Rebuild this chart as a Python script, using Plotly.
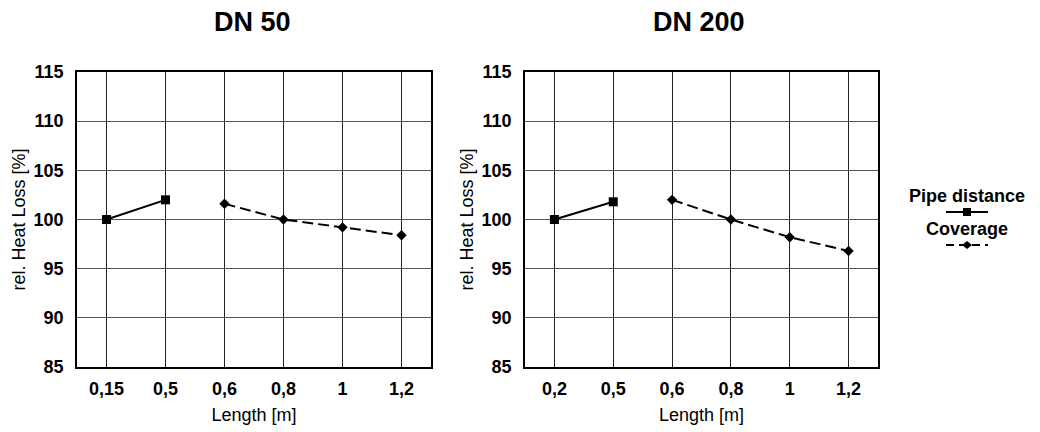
import plotly.graph_objects as go

# ---- data ----
cats_dn50 = ["0,15", "0,5", "0,6", "0,8", "1", "1,2"]
cats_dn200 = ["0,2", "0,5", "0,6", "0,8", "1", "1,2"]

pipe_x_dn50 = ["0,15", "0,5"]
pipe_y_dn50 = [100.0, 102.0]
cover_x_dn50 = ["0,6", "0,8", "1", "1,2"]
cover_y_dn50 = [101.6, 100.0, 99.2, 98.4]

pipe_x_dn200 = ["0,2", "0,5"]
pipe_y_dn200 = [100.0, 101.8]
cover_x_dn200 = ["0,6", "0,8", "1", "1,2"]
cover_y_dn200 = [102.0, 100.0, 98.2, 96.8]

titles = ["DN 50", "DN 200"]
y_ticks = [85, 90, 95, 100, 105, 110, 115]
series_names = ["Pipe distance", "Coverage"]

W, H = 1040, 432
FONT = "Liberation Sans, Arial, sans-serif"

fig = go.Figure()

line_pipe = dict(color="black", width=2)
line_cov = dict(color="black", width=2, dash="11px,5px")
mk_pipe = dict(symbol="square", size=9, color="black")
mk_cov = dict(symbol="diamond", size=8, color="black")

fig.add_trace(go.Scatter(x=pipe_x_dn50, y=pipe_y_dn50, mode="lines+markers",
                         line=line_pipe, marker=mk_pipe, name=series_names[0],
                         xaxis="x", yaxis="y", showlegend=False))
fig.add_trace(go.Scatter(x=cover_x_dn50, y=cover_y_dn50, mode="lines+markers",
                         line=line_cov, marker=mk_cov, name=series_names[1],
                         xaxis="x", yaxis="y", showlegend=False))
fig.add_trace(go.Scatter(x=pipe_x_dn200, y=pipe_y_dn200, mode="lines+markers",
                         line=line_pipe, marker=mk_pipe, name=series_names[0],
                         xaxis="x2", yaxis="y2", showlegend=False))
fig.add_trace(go.Scatter(x=cover_x_dn200, y=cover_y_dn200, mode="lines+markers",
                         line=line_cov, marker=mk_cov, name=series_names[1],
                         xaxis="x2", yaxis="y2", showlegend=False))

ydom = [1 - 367 / H, 1 - 72 / H]
dom1 = [77 / W, 431 / W]
dom2 = [525 / W, 878 / W]

tickfont = dict(family=FONT, size=18, color="black", weight="bold")
titlefont = dict(family=FONT, size=18, color="black")

def xax(dom, cats, anchor):
    return dict(domain=dom, type="category", categoryorder="array", categoryarray=cats,
                range=[-0.5, 5.5], showgrid=True, gridcolor="#222222", gridwidth=1,
                showline=True, linecolor="black", linewidth=1.5, mirror=True,
                ticks="", tickfont=tickfont, anchor=anchor, zeroline=False,
                ticklabelstandoff=5, automargin=False,
                title=dict(text="Length [m]", font=titlefont, standoff=10))

def yax(anchor):
    return dict(domain=ydom, range=[85, 115], tickvals=y_ticks, showgrid=True,
                gridcolor="#555555", gridwidth=1, showline=True, linecolor="black",
                linewidth=1.5, mirror=True, ticks="", tickfont=tickfont, anchor=anchor,
                zeroline=False, ticklabelstandoff=8, automargin=False,
                title=dict(text="rel. Heat Loss [%]", font=titlefont, standoff=3))

fig.update_layout(
    width=W, height=H,
    margin=dict(l=0, r=0, t=0, b=0),
    paper_bgcolor="white", plot_bgcolor="white",
    font=dict(family=FONT, color="black"),
    showlegend=False,
    xaxis=xax(dom1, cats_dn50, "y"),
    yaxis=yax("x"),
    xaxis2=xax(dom2, cats_dn200, "y2"),
    yaxis2=yax("x2"),
)

# subplot titles
for t, dom in zip(titles, [dom1, dom2]):
    fig.add_annotation(text=t, x=(dom[0] + dom[1]) / 2 - 2 / W, y=1 - 22 / H, xref="paper", yref="paper",
                       showarrow=False, font=dict(family=FONT, size=27, color="black", weight="bold"),
                       xanchor="center", yanchor="middle")

# custom legend: text above symbol
lx = 967 / W
fig.add_annotation(text=series_names[0], x=lx, y=1 - 196 / H, xref="paper", yref="paper",
                   showarrow=False, font=dict(family=FONT, size=18, color="black", weight="bold"),
                   xanchor="center", yanchor="middle")
fig.add_annotation(text=series_names[1], x=lx, y=1 - 229 / H, xref="paper", yref="paper",
                   showarrow=False, font=dict(family=FONT, size=18, color="black", weight="bold"),
                   xanchor="center", yanchor="middle")
fig.add_shape(type="line", xref="paper", yref="paper", x0=946 / W, x1=988 / W,
              y0=1 - 212 / H, y1=1 - 212 / H, line=dict(color="black", width=2))
fig.add_shape(type="rect", xref="paper", yref="paper", x0=963 / W, x1=971 / W,
              y0=1 - 216 / H, y1=1 - 208 / H, line=dict(width=0), fillcolor="black")
fig.add_shape(type="line", xref="paper", yref="paper", x0=946 / W, x1=988 / W,
              y0=1 - 245 / H, y1=1 - 245 / H, line=dict(color="black", width=2, dash="8px,5px"))
fig.add_shape(type="path", xref="paper", yref="paper",
              path=f"M {962/W},{1-245/H} L {967/W},{1-241/H} L {972/W},{1-245/H} L {967/W},{1-249/H} Z",
              line=dict(width=0), fillcolor="black")

fig.write_html("out.html")
